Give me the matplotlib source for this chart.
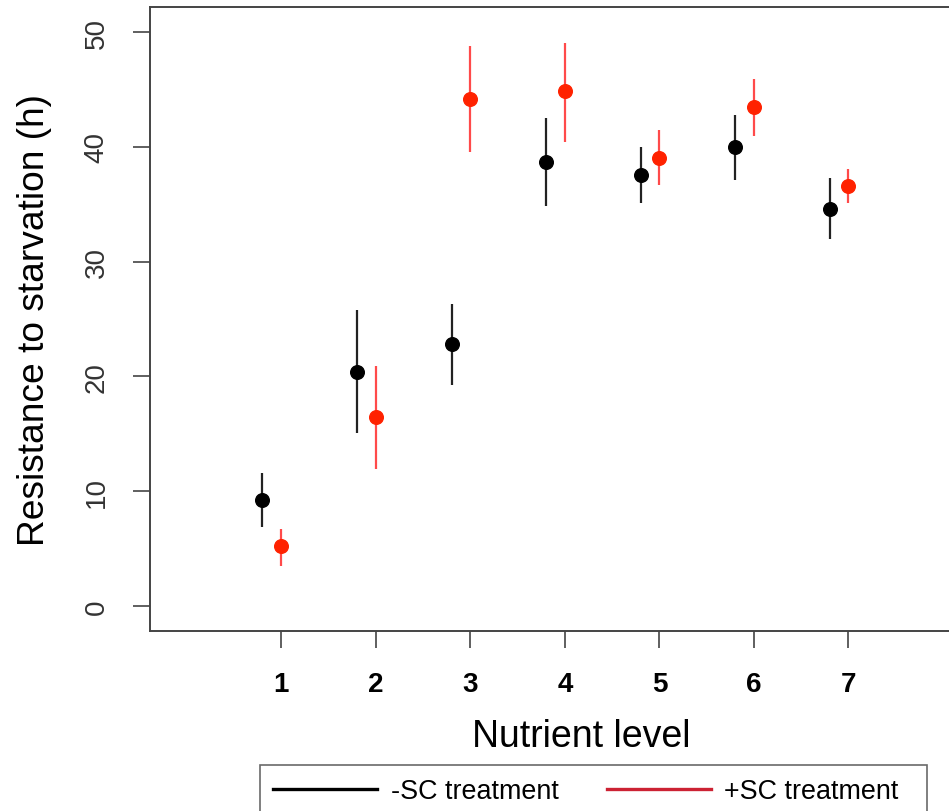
import matplotlib
matplotlib.use("Agg")
import matplotlib.pyplot as plt
from matplotlib.lines import Line2D
import numpy as np

plt.rcParams['font.family'] = ['Liberation Sans', 'DejaVu Sans']

# Nutrient levels and resistance to starvation (h)
levels = [1, 2, 3, 4, 5, 6, 7]

minus_mean = [9.2, 20.4, 22.8, 38.7, 37.6, 40.0, 34.6]
minus_low = [6.9, 15.1, 19.3, 34.9, 35.1, 37.1, 32.0]
minus_high = [11.6, 25.8, 26.3, 42.5, 40.0, 42.8, 37.3]

plus_mean = [5.2, 16.5, 44.2, 44.9, 39.0, 43.5, 36.6]
plus_low = [3.5, 11.9, 39.6, 40.4, 36.7, 41.0, 35.1]
plus_high = [6.7, 20.9, 48.8, 49.1, 41.5, 45.9, 38.1]

y_ticks = [0, 10, 20, 30, 40, 50]

x = np.array(levels, dtype=float)

fig = plt.figure(figsize=(9.49, 8.12), dpi=100)
# plot box runs off the right edge of the picture, as in the original
ax = fig.add_axes([150 / 949, 180 / 812, 862 / 949, 624 / 812])

# -SC treatment (black), shifted left
ax.vlines(x - 0.2, minus_low, minus_high, color='#222222', lw=1.6, zorder=2)
ax.plot(x - 0.2, minus_mean, 'o', color='black', ms=9.8, mec='black', zorder=3)

# +SC treatment (red)
ax.vlines(x, plus_low, plus_high, color='#ff4a4a', lw=1.6, zorder=2)
ax.plot(x, plus_mean, 'o', color='#ff2200', ms=9.8, mec='#ff2200', zorder=3)

ax.set_xlim(-0.39, 8.73)
ax.set_ylim(-2.18, 52.2)

ax.set_xticks(levels)
ax.set_xticklabels([str(v) for v in levels], fontsize=20, fontweight='bold')
ax.set_yticks(y_ticks)
ax.set_yticklabels([str(v) for v in y_ticks], fontsize=20, rotation=90,
                   va='center', color='#333333')

ax.tick_params(axis='both', direction='out', length=12, width=1.2,
               color='#444444', pad=17)

for s in ax.spines.values():
    s.set_linewidth(1.4)
    s.set_color('#444444')

ax.set_xlabel('Nutrient level', fontsize=27, labelpad=15)
ax.set_ylabel('Resistance to starvation (h)', fontsize=26.7, labelpad=23)

handles = [
    Line2D([], [], color='black', lw=2.4),
    Line2D([], [], color='#cc2233', lw=2.4),
]
leg = fig.legend(handles, ['-SC treatment', '+SC treatment  '],
                 loc='upper left', bbox_to_anchor=(260 / 949, 46 / 812),
                 ncol=2, fontsize=19.4, frameon=True, fancybox=False,
                 borderaxespad=0, borderpad=0.5, handlelength=3.85,
                 handletextpad=0.5, columnspacing=1.8)
leg.get_frame().set_edgecolor('#444444')
leg.get_frame().set_linewidth(1.2)

fig.savefig('out.png', dpi=100)
